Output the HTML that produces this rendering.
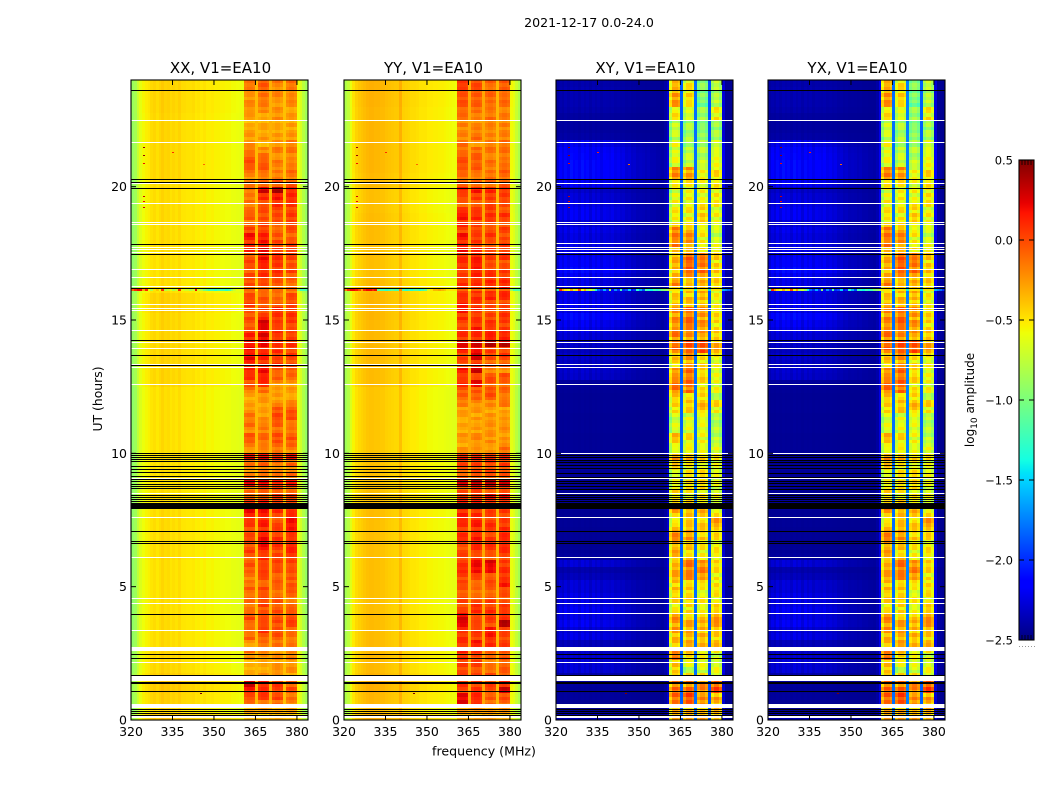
<!DOCTYPE html>
<html lang="en">
<head>
<meta charset="utf-8">
<title>2021-12-17 0.0-24.0</title>
<style>
html,body{margin:0;padding:0;background:#fff;}
svg{display:block;}
text{font-family:"DejaVu Sans","Liberation Sans",sans-serif;fill:#000;}
</style>
</head>
<body>
<svg id="figure" xmlns="http://www.w3.org/2000/svg" width="1050" height="800" viewBox="0 0 1050 800">
  <rect x="0" y="0" width="1050" height="800" fill="#fff"/>
  <text x="589" y="27" font-size="12.6" text-anchor="middle">2021-12-17 0.0-24.0</text>
  <text x="484" y="755.5" font-size="12.6" text-anchor="middle">frequency (MHz)</text>
  <text x="102" y="399" font-size="12.4" text-anchor="middle" transform="rotate(-90 102 399)">UT (hours)</text>
  <text x="974" y="400" font-size="12" text-anchor="middle" transform="rotate(-90 974 400)">log<tspan font-size="9" dy="3">10</tspan><tspan dy="-3"> amplitude</tspan></text>
</svg>
<script>
// ---- Data ----
const startFreqMHz = 320;
const endFreqMHz = 384;
const maxUT = 24;
const minAmp = -2.5;
const maxAmp = 0.5;
const freqTicks = [320, 335, 350, 365, 380];
const utTicks = [0, 5, 10, 15, 20];
const colorbarTicks = [0.5, 0, -0.5, -1, -1.5, -2, -2.5];
const colorbarLabels = ["0.5", "0.0", "\u22120.5", "\u22121.0", "\u22121.5", "\u22122.0", "\u22122.5"];

// Which sub-band (0-3) each 1 MHz channel belongs to; -1 means outside a sub-band.
const channelBlock = [-1,-1,-1,-1,-1,-1,-1,-1,-1,-1,-1,-1,-1,-1,-1,-1,-1,-1,-1,-1,-1,-1,-1,-1,-1,-1,-1,-1,-1,-1,-1,-1,-1,-1,-1,-1,-1,-1,-1,-1,-1,0,0,0,0,-1,1,1,1,1,-1,2,2,2,2,-1,3,3,3,3,-1,-1,-1,-1];

// Channel profiles (log10 amplitude, or relative level inside sub-bands)
const xxProfile = [-.92,-.87,-.74,-.64,-.58,-.55,-.53,-.49,-.47,-.5,-.47,-.44,-.47,-.46,-.49,-.47,-.49,-.46,-.5,-.5,-.51,-.51,-.5,-.53,-.52,-.54,-.52,-.55,-.55,-.54,-.56,-.56,-.57,-.57,-.58,-.58,-.6,-.6,-.61,-.62,-.63,-.03,0,0,-.02,-.36,-.02,.02,.02,-.02,-.33,-.02,.02,.02,-.02,-.38,-.02,.02,.02,-.02,-.6,-.68,-.8,-.9];
const yyProfile = [-.85,-.78,-.64,-.53,-.47,-.44,-.42,-.4,-.38,-.37,-.37,-.38,-.38,-.39,-.39,-.41,-.42,-.43,-.44,-.44,-.36,-.46,-.47,-.48,-.5,-.5,-.51,-.53,-.53,-.53,-.55,-.55,-.56,-.56,-.57,-.57,-.58,-.59,-.6,-.61,-.62,-.03,0,0,-.02,-.3,-.02,.02,.02,-.02,-.3,-.02,.02,.02,-.02,-.35,-.02,.02,.02,-.02,-.6,-.65,-.75,-.85];
const xyProfile = [-2.46,-2.46,-2.46,-2.46,-2.46,-2.46,-2.46,-2.46,-2.46,-2.46,-2.46,-2.46,-2.46,-2.46,-2.46,-2.46,-2.46,-2.46,-2.46,-2.46,-2.46,-2.46,-2.46,-2.46,-2.46,-2.46,-2.46,-2.46,-2.46,-2.46,-2.46,-2.46,-2.46,-2.46,-2.46,-2.46,-2.46,-2.46,-2.46,-2.42,-2.3,-.28,0,0,-.08,-1.85,-.18,0,0,-.1,-1.8,-.12,0,0,-.12,-1.9,-.14,0,0,-.16,-2.3,-2.46,-2.46,-2.46];
const yxProfile = [-2.46,-2.46,-2.46,-2.46,-2.46,-2.46,-2.46,-2.46,-2.46,-2.46,-2.46,-2.46,-2.46,-2.46,-2.46,-2.46,-2.46,-2.46,-2.46,-2.46,-2.46,-2.46,-2.46,-2.46,-2.46,-2.46,-2.46,-2.46,-2.46,-2.46,-2.46,-2.46,-2.46,-2.46,-2.46,-2.46,-2.46,-2.46,-2.46,-2.42,-2.25,-.25,0,0,-.08,-1.8,-.18,0,0,-.1,-1.75,-.12,0,0,-.12,-1.85,-.14,0,0,-.16,-2.3,-2.46,-2.46,-2.46];

// How strongly the time-varying off-band level applies to each channel
const parallelBgShape = [1,1,1,1,1,1,1,1,1,1,1,1,1,1,1,1,1,1,1,1,1,1,1,1,1,1,1,1,1,1,1,1,1,1,1,1,1,1,1,1,1,0,0,0,0,0,0,0,0,0,0,0,0,0,0,0,0,0,0,0,1,1,1,1];
const crossBgShape = [.45,.7,.55,.8,.6,.85,.7,.8,.6,.85,.65,.8,.55,.8,.6,.75,.55,.7,.65,.6,.7,.55,.6,.5,.55,.42,.45,.35,.38,.3,.32,.3,.25,.28,.22,.22,.18,.18,.15,.14,.12,0,0,0,0,0,0,0,0,0,0,0,0,0,0,0,0,0,0,0,.25,.15,.15,.08];

// Off-band level per 15-minute row (UT 0 upward)
const xxBg = [.08,0,.04,.04,.06,.06,.05,.02,.02,.02,.02,0,0,0,0,0,-.01,-.01,-.01,-.01,-.01,-.01,-.01,-.01,0,0,0,0,0,0,0,0,-.01,-.01,-.01,-.01,-.01,-.01,-.01,-.01,-.01,-.01,-.01,-.01,-.01,-.01,-.01,-.01,-.01,-.01,.02,.02,.02,.02,.02,.02,.02,.02,.02,.02,.02,.04,.04,.04,-.01,-.01,-.01,-.01,-.01,-.01,-.01,0,0,0,0,0,0,0,0,0,0,.02,.02,.02,.02,.02,.02,.02,.02,.02,.02,.03,.03,.03,.03,.03];
const yyBg = [.06,0,.03,.03,.05,.05,.04,.02,.02,.02,.02,.02,.01,.01,.01,.01,0,0,0,0,0,0,0,0,0,0,0,0,0,0,.01,.01,0,0,0,0,0,0,0,0,-.02,-.02,-.02,-.02,-.02,-.02,-.02,-.02,-.02,-.02,.01,.01,.01,.01,.02,.02,.02,.02,.02,.02,.03,.03,.03,.03,.02,.02,0,0,0,0,0,0,.01,.01,.01,.01,0,0,0,0,.02,.02,.03,.03,.03,.03,.03,.03,.03,.03,.03,.03,.04,.04,.04,.04];
const xyBg = [.15,0,.02,.05,.03,.05,.1,.25,.25,.22,.2,.15,.3,.25,.35,.3,.35,.3,.3,.25,.25,.15,.1,.25,.05,.03,.02,.03,.02,.03,.02,.02,.02,.03,.02,.03,.02,.03,.02,.05,.03,.03,.02,.03,.03,.02,.03,.03,.02,.03,.05,.2,.22,.18,.2,.15,.2,.25,.3,.35,.45,.3,.35,.3,.35,.3,.35,.45,.4,.35,.3,.3,.28,.32,.25,.35,.35,.3,.25,.2,.35,.45,.45,.45,.42,.4,.32,.08,.06,.06,.06,.1,.12,.12,.12,.1];

// Sub-band levels per 15-minute row, each row = [block0, block1, block2, block3]
const xxBand = [
[-.35,-.4,-.35,-.35],[-.3,-.3,-.3,-.3],[-.1,-.1,-.1,-.15],[.02,.05,.02,-.12],[.2,.12,.05,0],[.3,.15,.08,-.05],[-.28,-.25,-.25,-.25],[-.32,-.28,-.18,-.22],
[-.3,-.3,-.25,-.22],[-.2,-.22,-.2,-.18],[-.1,-.2,-.2,-.18],[-.22,-.12,-.12,-.15],[-.05,-.05,-.02,-.12],[-.12,.12,0,-.05],[-.05,-.02,.02,.02],[.02,.05,0,.05],
[-.1,-.05,0,-.05],[-.08,.05,-.02,-.12],[-.1,-.02,-.08,-.1],[-.05,.02,-.08,-.02],[-.1,-.05,-.05,-.05],[-.12,0,-.02,0],[-.02,.1,0,-.02],[0,.02,.02,.02],
[-.05,.1,.05,.08],[.05,.15,.02,.12],[.02,.22,.1,.15],[.02,.18,.08,.05],[.05,.1,.05,.15],[.08,.15,.02,.22],[.1,.1,0,.2],[.3,.28,.12,.1],
[.05,.12,.1,.08],[-.05,0,.05,0],[-.1,-.05,0,-.05],[.25,.22,.12,.15],[-.1,-.12,-.1,-.1],[-.2,-.15,-.2,-.18],[-.1,-.05,-.1,-.08],[.25,.22,.15,.18],
[-.25,-.2,-.15,-.18],[-.05,-.1,-.02,-.05],[-.02,-.08,.02,0],[-.18,-.15,-.1,-.15],[-.1,-.15,-.05,-.1],[-.1,-.22,.03,0],[-.2,-.25,0,0],[-.25,-.25,-.2,-.2],
[-.28,-.22,-.25,-.25],[-.1,-.1,-.25,-.25],[.02,.1,-.2,-.22],[.1,.18,-.05,-.1],[.15,.2,-.02,-.05],[.18,.1,.1,0],[.22,.12,.05,.05],[.2,.15,.1,.02],
[.2,.22,.1,.08],[.15,.28,.1,.05],[.05,.2,.08,.02],[0,.3,.05,.05],[.02,.12,.1,.08],[0,0,.12,.08],[.05,-.02,-.02,.02],[.02,-.02,-.1,0],
[-.05,-.1,-.12,-.1],[0,0,-.02,-.1],[.02,.08,.05,-.02],[0,.1,.08,.02],[.05,.18,.1,0],[0,.2,.1,.02],[.15,.22,.08,.08],[.1,.2,.05,0],
[.2,.15,-.02,-.05],[.05,.05,-.08,0],[-.1,0,-.02,.05],[0,.02,.02,.05],[-.08,0,.05,.05],[-.12,.02,.1,.08],[-.12,.1,.2,.12],[-.1,.3,.38,.15],
[-.1,-.1,-.02,-.05],[-.2,-.15,-.15,-.15],[-.05,-.05,-.15,-.1],[.05,0,-.15,-.15],[-.05,-.1,-.2,-.2],[-.1,-.2,-.15,-.12],[-.2,-.3,-.2,-.15],[-.22,-.25,-.25,-.22],
[-.25,-.28,-.3,-.3],[-.3,-.3,-.28,-.25],[-.25,-.28,-.2,-.25],[-.18,-.2,-.22,-.25],[-.18,-.15,-.25,-.2],[-.2,-.12,-.15,-.18],[-.15,-.1,-.2,-.15],[-.12,-.05,-.12,-.12]
];
const yyBand = [
[-.3,-.3,-.3,-.3],[-.25,-.25,-.25,-.25],[.25,.15,-.1,-.05],[.25,.1,-.05,0],[.05,.1,.02,.3],[.1,.05,.05,.12],[.05,0,0,0],[0,0,-.08,-.05],
[.08,.05,-.15,-.05],[.1,.02,-.1,-.05],[.15,.08,.05,-.02],[.12,.15,.1,.05],[.12,.05,.15,.02],[.1,.1,.18,.1],[.3,0,.02,.35],[.28,.05,.1,.15],
[.05,.1,.1,.05],[.05,.1,.05,.05],[0,-.1,-.05,0],[-.02,-.1,-.05,0],[.05,-.05,0,.15],[.05,0,.02,.1],[.15,.25,.2,.1],[.1,.22,.25,.05],
[.05,.05,-.02,.05],[0,.1,.05,.1],[.1,.12,.1,.15],[.12,.15,.05,.12],[.1,.1,.05,.1],[.12,.15,.1,.08],[.15,.1,.05,.05],[.12,.1,.05,.08],
[.12,.12,.15,.12],[.1,.12,.18,.15],[0,.05,0,.05],[.3,.32,.35,.3],[-.05,-.02,0,-.02],[-.02,0,0,-.02],[.05,.05,.05,.05],[.15,.12,.12,.1],
[-.2,-.25,-.25,-.1],[-.25,-.2,-.2,-.2],[-.22,-.18,-.2,-.22],[-.28,-.25,-.2,-.22],[-.28,-.25,-.22,-.2],[-.25,-.25,-.22,-.25],[-.22,-.22,-.25,-.25],[-.15,-.2,-.2,-.15],
[-.05,-.05,0,-.1],[0,-.02,-.02,-.08],[.15,.22,-.02,-.05],[.05,.05,0,-.02],[.2,.3,-.15,-.2],[.05,.1,-.05,-.05],[.05,.25,.02,.05],[.2,.25,.05,.02],
[.3,.3,.38,.35],[.1,.12,.2,.15],[.1,.15,.1,.1],[.05,.1,.08,.05],[.12,.08,.05,.08],[.2,.1,.02,.08],[.15,.1,.05,.02],[.1,.1,.12,.1],
[.12,.1,.08,.2],[.1,.1,.12,.12],[.05,.12,.1,.08],[.1,.15,.05,.05],[.12,.2,.02,0],[.15,.15,.05,.08],[.2,.12,.08,.05],[.12,.1,0,.02],
[.2,.05,.08,.02],[.05,.05,0,.05],[.12,.02,.02,0],[.22,.15,.1,.08],[.1,.05,.08,0],[-.05,-.02,.02,0],[.05,.05,.08,.05],[.15,.18,.12,.1],
[-.05,-.1,-.08,-.05],[-.1,-.15,-.1,-.1],[-.02,-.05,-.12,-.05],[.05,-.02,-.12,-.1],[-.02,-.05,-.15,-.15],[-.08,-.1,-.12,-.1],[-.1,-.2,-.12,-.1],[-.15,-.1,-.18,-.15],
[-.18,-.15,-.2,-.2],[-.15,-.2,-.15,-.15],[-.1,-.15,-.1,-.15],[-.05,-.12,-.15,-.15],[0,-.05,-.1,-.1],[.02,-.05,-.05,-.1],[.05,0,-.1,-.05],[.08,0,-.05,-.05]
];
const xyBand = [
[-.4,-.4,-.4,-.4],[-.45,-.45,-.45,-.45],[-.25,-.15,-.35,-.4],[-.15,-.1,-.3,-.35],[-.2,-.15,-.25,-.05],[-.2,-.25,-.3,-.15],[-.45,-.6,-.6,-.6],[-.55,-.8,-.7,-.7],
[-.45,-.7,-.7,-.7],[-.25,-.55,-.65,-.7],[-.3,-.5,-.55,-.6],[-.45,-.4,-.45,-.45],[-.45,-.45,-.4,-.5],[-.35,-.35,-.4,-.4],[-.3,-.4,-.42,-.35],[-.3,-.5,-.45,-.25],
[-.6,-.55,-.65,-.55],[-.55,-.55,-.6,-.55],[-.55,-.55,-.65,-.6],[-.45,-.5,-.6,-.6],[-.45,-.5,-.6,-.6],[-.4,-.3,-.25,-.55],[-.35,-.2,-.25,-.55],[-.45,-.2,-.35,-.55],
[-.45,-.5,-.6,-.6],[-.4,-.5,-.6,-.6],[-.35,-.5,-.6,-.6],[-.3,-.35,-.5,-.55],[-.3,-.35,-.5,-.55],[-.65,-.5,-.5,-.3],[-.65,-.5,-.5,-.35],[-.25,-.4,-.4,-.7],
[-.6,-.55,-.55,-.7],[-.6,-.6,-.6,-.7],[-.55,-.6,-.55,-.7],[-.7,-.6,-.55,-.7],[-.7,-.6,-.55,-.7],[-.6,-.6,-.6,-.7],[-.5,-.6,-.6,-.7],[-.35,-.45,-.5,-.6],
[-.75,-.7,-.7,-.7],[-.5,-.6,-.65,-.8],[-.45,-.55,-.65,-.8],[-.75,-.7,-.7,-.85],[-.75,-.7,-.7,-.85],[-.75,-.7,-.7,-.85],[-.55,-.5,-.45,-.6],[-.55,-.5,-.45,-.55],
[-.5,-.6,-.55,-.8],[-.2,-.2,-.55,-.65],[-.2,-.2,-.55,-.65],[-.35,-.2,-.5,-.7],[-.35,-.2,-.5,-.7],[-.5,-.35,-.55,-.65],[-.5,-.35,-.55,-.65],[-.2,-.1,-.1,-.35],
[-.2,-.1,-.1,-.4],[-.25,-.3,-.35,-.5],[-.25,-.3,-.35,-.5],[-.3,-.15,-.3,-.55],[-.3,-.2,-.3,-.55],[-.3,-.2,-.3,-.55],[-.5,-.45,-.45,-.65],[-.5,-.45,-.45,-.65],
[-.5,-.45,-.4,-.6],[-.3,-.5,-.4,-.5],[-.45,-.35,-.4,-.5],[-.4,-.15,-.2,-.5],[-.4,-.15,-.2,-.5],[-.4,-.15,-.25,-.5],[-.5,-.5,-.55,-.6],[-.25,-.3,-.6,-.7],
[-.25,-.3,-.6,-.75],[-.25,-.4,-.65,-.75],[-.6,-.6,-.55,-.65],[-.6,-.6,-.5,-.65],[-.6,-.6,-.5,-.65],[-.65,-.65,-.6,-.6],[-.7,-.65,-.65,-.6],[-.7,-.65,-.65,-.6],
[-.6,-.6,-.65,-.6],[-.3,-.35,-.65,-.55],[-.3,-.35,-.65,-.55],[-.65,-.75,-.8,-.65],[-.7,-.8,-.85,-.7],[-.7,-.85,-.85,-.75],[-.7,-.85,-.85,-.75],[-.8,-.9,-1,-.9],
[-.8,-.9,-1.05,-.9],[-.8,-.9,-1.05,-.9],[-.6,-.75,-.95,-.6],[-.6,-.75,-.95,-.6],[-.35,-.6,-1.05,-.85],[-.3,-.55,-1.05,-.85],[-.45,-.6,-1,-.85],[-.45,-.6,-1,-.85]
];
const xyBandOffset = [.1, .1, .1, .1];
const yxBandOffset = [.12, .12, .1, .12];
const parallelBandOffset = [-.03, -.03, -.03, -.03];

// Fine (7.5 minute) streak texture inside the sub-bands, UT 0 upward
const parallelFine = [
.02,-.04,.05,-.06,.03,.06,-.02,.04,-.07,.02,.05,-.03,-.05,.03,.06,-.01,.02,-.06,.04,-.03,.06,-.01,-.05,.03,
.04,-.06,.02,.05,-.04,-.01,.06,-.05,.03,.01,-.07,.04,.05,-.02,-.04,.06,-.02,.03,-.06,.05,.01,-.04,.05,-.03,
-.05,.04,.06,-.02,-.06,.03,.01,.05,-.04,-.07,.04,.02,-.01,.06,-.04,.02,-.05,.05,.03,-.03,.06,-.06,-.01,.04,
.05,-.03,-.06,.02,.04,-.02,.06,-.05,.01,.04,-.06,.03,-.02,.05,-.04,.01,.06,-.03,-.05,.04,.02,-.06,.05,-.01,
-.04,.06,-.07,.03,.01,-.05,.05,.02,-.03,.04,-.06,.01,.06,-.02,-.04,.05,-.01,.03,-.06,.06,.04,-.03,-.05,.02,
.05,-.07,.03,-.01,.06,-.04,.02,.04,-.05,-.02,.06,-.03,.01,.05,-.06,.03,-.04,.04,.01,-.06,.06,-.02,.05,-.04,
-.01,.05,-.05,.03,.06,-.06,.02,-.03,.04,.01,-.05,.06,-.04,.03,-.06,.05,.02,-.02,-.04,.06,-.03,.04,-.06,.01,
.05,-.03,.02,-.05,.06,-.01,-.06,.04,.03,-.04,.05,-.06,.01,.06,-.02,-.04,.03,.05,-.05,.02,-.03,.05,-.01,.04
];
const crossFine = [
.04,-.06,.08,-.09,.05,.07,-.14,.04,-.05,.08,-.16,.02,.06,-.08,.09,-.04,.03,-.15,.06,-.02,.08,-.06,-.12,.05,
.07,-.1,.03,.08,-.17,.01,.06,-.08,.04,.02,-.14,.07,.08,-.04,-.09,.05,-.16,.05,-.07,.07,.02,-.12,.06,-.05,
-.09,.06,.08,-.03,-.15,.04,.01,.07,-.06,-.13,.07,.03,-.02,.09,-.08,.03,-.16,.06,.05,-.04,.08,-.1,-.02,.05,
.07,-.06,-.14,.04,.06,-.03,.08,-.09,.02,.06,-.17,.04,-.04,.07,-.07,.01,.09,-.05,-.13,.05,.03,-.12,.07,-.01,
-.06,.08,-.16,.05,.02,-.08,.07,.03,-.05,.06,-.14,.01,.09,-.04,-.1,.07,-.02,.04,-.16,.08,.05,-.05,-.09,.03,
.07,-.15,.05,-.01,.08,-.07,.03,.06,-.12,-.03,.09,-.06,.02,.07,-.17,.04,-.08,.06,.01,-.13,.08,-.04,.07,-.06,
-.02,.07,-.1,.04,.09,-.16,.03,-.05,.06,.01,-.12,.08,-.07,.05,-.18,.07,.03,-.03,-.1,.08,-.05,.06,-.16,.02,
.07,-.06,.04,-.13,.09,-.02,-.16,.06,.04,-.07,.07,-.15,.01,.08,-.04,-.12,.05,.07,-.14,.03,-.05,.07,-.01,.05
];

// Flagged-data lines and gaps (UT hours)
const parallelBlackUT = [23.61,20.28,20.16,19.95,17.85,17.48,16.19,14.24,13.68,13.30,10.02,9.94,9.85,9.78,9.70,9.54,9.41,9.29,9.15,9.03,8.95,8.85,8.78,8.69,8.45,8.37,8.28,8.20,8.13,7.08,6.71,6.63,3.96,2.46,2.31,1.68,1.41,1.38,1.08,.41,.34,.26,.20];
const parallelWhiteUT = [22.49,21.66,20.13,19.38,18.69,18.59,17.75,17.65,17.56,16.90,16.63,16.26,15.59,15.46,15.36,14.61,14.16,13.94,13.34,13.23,12.59,9.08,8.52,7.63,6.10,4.56,4.37,3.36,2.16];
const crossBlackUT = [23.61,20.28,19.95,17.48,16.19,14.24,13.68,9.93,9.85,9.75,9.68,9.55,9.44,9.27,9.12,8.97,8.87,8.78,8.68,8.45,8.37,8.30,8.20,7.08,6.71,6.63,2.46,2.31,1.68,1.41,1.38,1.08,.41,.34,.26,.20];
const crossWhiteUT = [22.49,21.66,20.13,19.38,18.69,18.59,17.87,17.75,17.65,17.56,16.90,16.63,16.26,15.59,15.46,15.36,14.61,14.16,13.94,13.34,13.23,12.59,10.02,9.08,8.52,8.13,7.63,6.10,4.56,4.37,4.00,3.36,2.16];
const gapStartUT = [2.59, 1.45, .45, .09];
const gapEndUT = [2.74, 1.65, .60, .19];
const flaggedStartUT = [7.93];
const flaggedEndUT = [8.13];

// Broadband interference streak at one UT, per channel
const streakUT = 16.11;
const xxStreak = [-.1,.1,.2,.2,-.3,.1,-.6,-.8,-.5,-.4,-.6,.1,-.8,-.7,-.6,-.8,-.7,.1,-.6,-.7,-.7,-.8,-.7,.2,-.7,-.8,-1.0,-1.1,-1.2,-1.2,-1.3,-1.2,-1.2,-1.2,-1.3,-1.2,-.9,-.7,-.6,-.6,-.6,-.1,-.1,-.1,-.1,-.5,-.1,-.1,-.1,-.1,-.4,-.1,-.1,-.1,-.1,-.4,-.1,-.1,-.1,-.1,-.9,-1.2,-1.2,-1.2];
const yyStreak = [-.2,.1,.2,.2,.15,0,-.3,.1,.2,.2,.1,.2,-1.1,-1.2,-1.2,-1.3,-1.2,-1.1,-1.2,-1.2,-.2,-1.2,-1.3,-1.2,-1.3,-1.2,-1.2,-1.3,-1.2,-1.1,-.7,-.5,-.35,-.35,-.3,-.35,-.4,-.5,-.5,-.5,-.5,-.1,-.1,-.1,-.1,-.5,-.1,-.1,-.1,-.1,-.4,-.1,-.1,-.1,-.1,-.4,-.1,-.1,-.1,-.1,-.9,-1.2,-1.2,-1.2];
const xyStreak = [-1.3,.1,-.3,-.5,-.6,-.3,-.7,-.5,0,-.6,-.3,-.8,-.7,-.9,-1.4,-1.8,-2,-1.6,-2,-.9,-2.1,-1.7,-2,-1.2,-2,-1.9,-1.5,-2.1,-2,-1.3,-1.6,-1.9,-1.2,-1.3,-1.4,-1.2,-1.3,-1.2,-1,-.9,-.8,-.5,-.5,-.5,-.5,-1.4,-.5,-.5,-.5,-.5,-1.4,-.5,-.5,-.5,-.5,-1.5,-.5,-.5,-.5,-.5,-1.6,-1.7,-1.8,-2];

// Isolated hot samples
const speckleFreq = [324.4,324.4,324.4,324.4,324.4,324.4,335,346,345,330,333];
const speckleUT = [21.5,21.19,20.87,19.65,19.46,19.25,21.3,20.85,1.0,19.4,19.4];
const speckleAmp = [.45,.45,.2,.3,.2,.3,.1,-.1,.5,-.2,-.2];

// ---- Axis functions ----
const plotTop = 80, plotBottom = 720, plotWidth = 177;
function xScale(freq, left) { return left + (freq - startFreqMHz) * plotWidth / (endFreqMHz - startFreqMHz); }
function yScale(ut) { return plotBottom - ut * (plotBottom - plotTop) / maxUT; }
const cbTop = 160, cbBottom = 640, cbLeft = 1019, cbRight = 1034;
function cbScale(v) { return cbBottom - (v - minAmp) * (cbBottom - cbTop) / (maxAmp - minAmp); }

function interp(points, t) {
  for (let i = 1; i < points.length; i++) {
    if (t <= points[i][0]) {
      const a = points[i - 1], b = points[i];
      return a[1] + (b[1] - a[1]) * (t - a[0]) / (b[0] - a[0]);
    }
  }
  return points[points.length - 1][1];
}
const jetR = [[0,0],[.35,0],[.66,1],[.89,1],[1,.5]];
const jetG = [[0,0],[.125,0],[.375,1],[.64,1],[.91,0],[1,0]];
const jetB = [[0,.5],[.11,1],[.34,1],[.65,0],[1,0]];
function jetColor(value) {
  const n = Math.max(0, Math.min(1, (value - minAmp) / (maxAmp - minAmp)));
  const r = Math.round(255 * interp(jetR, n));
  const g = Math.round(255 * interp(jetG, n));
  const b = Math.round(255 * interp(jetB, n));
  return 'rgb(' + r + ',' + g + ',' + b + ')';
}

const svgNS = 'http://www.w3.org/2000/svg';
const figure = document.getElementById('figure');
function makeRect(parent, x, y, w, h, fill) {
  const el = document.createElementNS(svgNS, 'rect');
  el.setAttribute('x', x);
  el.setAttribute('y', y);
  el.setAttribute('width', w);
  el.setAttribute('height', h);
  el.setAttribute('fill', fill);
  el.setAttribute('shape-rendering', 'crispEdges');
  parent.appendChild(el);
  return el;
}
function makeLine(parent, x1, y1, x2, y2, color, width) {
  const el = document.createElementNS(svgNS, 'line');
  el.setAttribute('x1', x1);
  el.setAttribute('y1', y1);
  el.setAttribute('x2', x2);
  el.setAttribute('y2', y2);
  el.setAttribute('stroke', color);
  el.setAttribute('stroke-width', width);
  parent.appendChild(el);
  return el;
}
function makeText(parent, x, y, str, size, anchor) {
  const el = document.createElementNS(svgNS, 'text');
  el.setAttribute('x', x);
  el.setAttribute('y', y);
  el.setAttribute('font-size', size);
  el.setAttribute('text-anchor', anchor);
  el.textContent = str;
  parent.appendChild(el);
  return el;
}

function drawPanel(key, title, left, profile, band, bandOffset, fine, bg, bgShape, blackUT, whiteUT, streak) {
  const g = document.createElementNS(svgNS, 'g');
  
  
  figure.appendChild(g);

  const rowHours = maxUT / band.length;
  const fineHours = maxUT / fine.length;
  const finePerRow = Math.round(fine.length / band.length);
  const plotRight = left + plotWidth;
  for (let r = 0; r < band.length; r++) {
    const y1 = Math.round(yScale((r + 1) * rowHours));
    const y2 = Math.round(yScale(r * rowHours));
    for (let c = 0; c < profile.length; c++) {
      const block = channelBlock[c];
      const x1 = Math.round(xScale(startFreqMHz + c, left));
      const x2 = Math.round(xScale(startFreqMHz + c + 1, left));
      if (block >= 0) {
        for (let k = 0; k < finePerRow; k++) {
          const fr = r * finePerRow + k;
          const fy1 = Math.round(yScale((fr + 1) * fineHours));
          const fy2 = Math.round(yScale(fr * fineHours));
          const v = profile[c] + band[r][block] + bandOffset[block] + fine[(fr + block * 7) % fine.length];
          const cell = makeRect(g, x1, fy1, x2 - x1, fy2 - fy1, jetColor(v));
          
          
        }
      } else {
        const v = profile[c] + bg[r] * bgShape[c];
        const cell = makeRect(g, x1, y1, x2 - x1, y2 - y1, jetColor(v));
        
        
      }
    }
  }

  for (let c = 0; c < streak.length; c++) {
    const x1 = Math.round(xScale(startFreqMHz + c, left));
    const x2 = Math.round(xScale(startFreqMHz + c + 1, left));
    const seg = makeRect(g, x1, Math.round(yScale(streakUT)) - 1, x2 - x1, 2, jetColor(streak[c]));
    
    
  }

  for (let i = 0; i < speckleFreq.length; i++) {
    const dot = makeRect(g, Math.round(xScale(speckleFreq[i], left)), Math.round(yScale(speckleUT[i])), 2, 1, jetColor(speckleAmp[i]));
    
    
  }

  whiteUT.forEach(function (ut) {
    const line = makeRect(g, left, Math.round(yScale(ut)), plotWidth, 1, '#fff');
    
    
  });
  gapStartUT.forEach(function (start, i) {
    const top = Math.round(yScale(gapEndUT[i]));
    const gap = makeRect(g, left, top, plotWidth, Math.round(yScale(start)) - top, '#fff');
    
    
  });
  blackUT.forEach(function (ut) {
    const line = makeRect(g, left, Math.round(yScale(ut)), plotWidth, 1, '#000');
    
    
  });
  flaggedStartUT.forEach(function (start, i) {
    const top = Math.round(yScale(flaggedEndUT[i]));
    const block = makeRect(g, left, top, plotWidth, Math.round(yScale(start)) - top, '#000');
    
    
  });

  const frame = document.createElementNS(svgNS, 'rect');
  frame.setAttribute('x', left);
  frame.setAttribute('y', plotTop);
  frame.setAttribute('width', plotWidth);
  frame.setAttribute('height', plotBottom - plotTop);
  frame.setAttribute('fill', 'none');
  frame.setAttribute('stroke', '#000');
  frame.setAttribute('stroke-width', '1.1');
  
  
  g.appendChild(frame);

  freqTicks.forEach(function (f) {
    const x = xScale(f, left);
    const t1 = makeLine(g, x, plotBottom, x, plotBottom - 5, '#000', 1);
    
    
    const t2 = makeLine(g, x, plotTop, x, plotTop + 5, '#000', 1);
    
    
    const label = makeText(g, x, plotBottom + 16, String(f), 12.5, 'middle');
    
    
  });
  utTicks.forEach(function (u) {
    const y = yScale(u);
    const t1 = makeLine(g, left, y, left + 5, y, '#000', 1);
    
    
    const t2 = makeLine(g, plotRight, y, plotRight - 5, y, '#000', 1);
    
    
    const label = makeText(g, left - 4, y + 4.5, String(u), 12.5, 'end');
    
    
  });

  const heading = makeText(g, left + plotWidth / 2 + 1, 73, title, 15, 'middle');
  
  
}

drawPanel('xx', 'XX, V1=EA10', 131, xxProfile, xxBand, parallelBandOffset, parallelFine, xxBg, parallelBgShape, parallelBlackUT, parallelWhiteUT, xxStreak);
drawPanel('yy', 'YY, V1=EA10', 344, yyProfile, yyBand, parallelBandOffset, parallelFine, yyBg, parallelBgShape, parallelBlackUT, parallelWhiteUT, yyStreak);
drawPanel('xy', 'XY, V1=EA10', 556, xyProfile, xyBand, xyBandOffset, crossFine, xyBg, crossBgShape, crossBlackUT, crossWhiteUT, xyStreak);
drawPanel('yx', 'YX, V1=EA10', 768, yxProfile, xyBand, yxBandOffset, crossFine, xyBg, crossBgShape, crossBlackUT, crossWhiteUT, xyStreak);

// ---- Colorbar ----
const cb = document.createElementNS(svgNS, 'g');


figure.appendChild(cb);
for (let py = cbTop; py < cbBottom; py++) {
  const amp = maxAmp - (py + 0.5 - cbTop) * (maxAmp - minAmp) / (cbBottom - cbTop);
  const strip = makeRect(cb, cbLeft, py, cbRight - cbLeft, 1, jetColor(amp));
  
  
}
const cbFrame = document.createElementNS(svgNS, 'rect');
cbFrame.setAttribute('x', cbLeft);
cbFrame.setAttribute('y', cbTop);
cbFrame.setAttribute('width', cbRight - cbLeft);
cbFrame.setAttribute('height', cbBottom - cbTop);
cbFrame.setAttribute('fill', 'none');
cbFrame.setAttribute('stroke', '#000');
cbFrame.setAttribute('stroke-width', '1.1');


cb.appendChild(cbFrame);
colorbarTicks.forEach(function (v, i) {
  const y = cbScale(v);
  const t1 = makeLine(cb, cbLeft, y, cbLeft + 5, y, '#000', 1);
  
  
  const t2 = makeLine(cb, cbRight, y, cbRight - 5, y, '#000', 1);
  
  
  const label = makeText(cb, cbLeft - 6, y + 4.5, colorbarLabels[i], 11.5, 'end');
  
  
});
for (let k = 0; k < 6; k++) {
  const xt = cbLeft + k * (cbRight - cbLeft) / 5;
  const up = makeLine(cb, xt, cbTop, xt, cbTop + 5, '#000', 0.8);
  
  
  const down = makeLine(cb, xt, cbBottom, xt, cbBottom - 5, '#000', 0.8);
  
  
  const dot = makeRect(cb, Math.round(xt), cbBottom + 6, 1, 1, '#999');
  
  
}
</script>
</body>
</html>
